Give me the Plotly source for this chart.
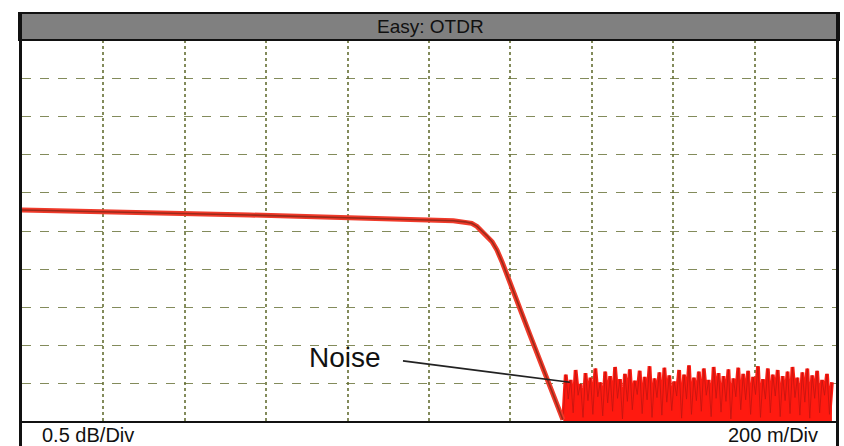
import numpy as np
import plotly.graph_objects as go

# ---- data (distance in m, relative level in dB) ----
trace_dist = [0, 192, 560, 1060, 1088, 1105, 1118, 1130, 1142, 1155, 1167, 1180, 1248, 1329]
trace_db = [2.775, 2.755, 2.71, 2.635, 2.62, 2.60, 2.56, 2.50, 2.44, 2.36, 2.25, 2.09, 1.14, 0.03]

noise_db = [0.05, 0.62, 0.30, 0.55, 0.12, 0.68, 0.35, 0.50, 0.06, 0.64, 0.28, 0.58, 0.10, 0.70,
            0.33, 0.52, 0.08, 0.66, 0.25, 0.60, 0.14, 0.72, 0.31, 0.56, 0.04, 0.63, 0.27, 0.69,
            0.16, 0.54, 0.36, 0.67, 0.11, 0.59, 0.29, 0.73, 0.06, 0.57, 0.32, 0.65, 0.09, 0.71,
            0.26, 0.61, 0.15, 0.53, 0.34, 0.68, 0.05, 0.62, 0.30, 0.74, 0.10, 0.58, 0.28, 0.66,
            0.14, 0.70, 0.35, 0.55, 0.07, 0.72, 0.31, 0.64, 0.13, 0.60, 0.27, 0.69, 0.04, 0.57,
            0.33, 0.71, 0.16, 0.63, 0.29, 0.67, 0.10, 0.59, 0.36, 0.73, 0.06, 0.56, 0.30, 0.70,
            0.12, 0.62, 0.34, 0.68, 0.07, 0.60, 0.28, 0.66, 0.11, 0.72, 0.32, 0.58, 0.09, 0.65,
            0.26, 0.70, 0.05, 0.61, 0.31, 0.67, 0.12, 0.55, 0.35, 0.63, 0.10, 0.52]
noise_start, noise_end = 1330, 1990

title_text = "Easy: OTDR"
label_noise = "Noise"
label_left = "0.5 dB/Div"
label_right = "200 m/Div"
pointer_from = (936, 0.80)
pointer_to = (1346, 0.52)

noise_dist = np.linspace(noise_start, noise_end, len(noise_db))

# pixel -> paper helpers (plot area: x 22..836, y 40..422)
def px(x):
    return (x - 22) / 814.0

def py(y):
    return (422 - y) / 382.0

fig = go.Figure()

# noise floor
fig.add_trace(go.Scatter(x=noise_dist, y=noise_db, mode="lines",
                         line=dict(color="#ff1a10", width=3.8), fill="tozeroy",
                         fillcolor="#ff1a10", hoverinfo="skip"))
fig.add_trace(go.Scatter(x=noise_dist, y=noise_db, mode="lines",
                         line=dict(color="#c01510", width=0.8), hoverinfo="skip"))

# main trace: red with darker core
fig.add_trace(go.Scatter(x=trace_dist, y=trace_db, mode="lines",
                         line=dict(color="#f03a2a", width=5), hoverinfo="skip"))
fig.add_trace(go.Scatter(x=trace_dist, y=trace_db, mode="lines",
                         line=dict(color="#9a2a1a", width=1.6), hoverinfo="skip"))

grid_col = "rgba(100,110,50,0.8)"
fig.update_xaxes(range=[0, 2000], dtick=200, showgrid=True, griddash="dot",
                 gridcolor=grid_col, gridwidth=1.5, showticklabels=False,
                 zeroline=False, showline=False, ticks="")
fig.update_yaxes(range=[0, 5], dtick=0.5, showgrid=True, griddash="dash",
                 gridcolor=grid_col, gridwidth=1.4, showticklabels=False,
                 zeroline=False, showline=False, ticks="")

shapes = [
    # header bar
    dict(type="rect", xref="paper", yref="paper", x0=px(19), x1=px(839), y0=py(40), y1=py(13),
         fillcolor="#808080", line=dict(color="#111111", width=2), layer="above"),
    # left / right borders
    dict(type="line", xref="paper", yref="paper", x0=px(20.5), x1=px(20.5), y0=py(446), y1=py(13),
         line=dict(color="#111111", width=3)),
    dict(type="line", xref="paper", yref="paper", x0=px(837.5), x1=px(837.5), y0=py(446), y1=py(13),
         line=dict(color="#111111", width=3)),
    # plot bottom line
    dict(type="line", xref="paper", yref="paper", x0=px(19), x1=px(839), y0=py(422), y1=py(422),
         line=dict(color="#111111", width=2)),
    # noise pointer
    dict(type="line", xref="x", yref="y", x0=pointer_from[0], y0=pointer_from[1],
         x1=pointer_to[0], y1=pointer_to[1], line=dict(color="#222222", width=1.6)),
]

annotations = [
    dict(text=title_text, xref="paper", yref="paper", x=px(430), y=py(27), showarrow=False,
         xanchor="center", yanchor="middle", font=dict(family="Liberation Sans", size=19, color="#111111")),
    dict(text=label_noise, xref="x", yref="y", x=700, y=0.84, showarrow=False,
         xanchor="left", yanchor="middle", font=dict(family="Liberation Sans", size=28, color="#111111")),
    dict(text=label_left, xref="paper", yref="paper", x=px(40), y=py(435), showarrow=False,
         xanchor="left", yanchor="middle", font=dict(family="Liberation Sans", size=20, color="#111111")),
    dict(text=label_right, xref="paper", yref="paper", x=px(820), y=py(435), showarrow=False,
         xanchor="right", yanchor="middle", font=dict(family="Liberation Sans", size=20, color="#111111")),
]

fig.update_layout(width=844, height=446, margin=dict(l=22, r=8, t=40, b=24),
                  paper_bgcolor="white", plot_bgcolor="white", showlegend=False,
                  shapes=shapes, annotations=annotations)

fig.write_html("out.html", config={"displayModeBar": False},
               post_script="document.body.style.margin='0';document.body.style.overflow='hidden';")
